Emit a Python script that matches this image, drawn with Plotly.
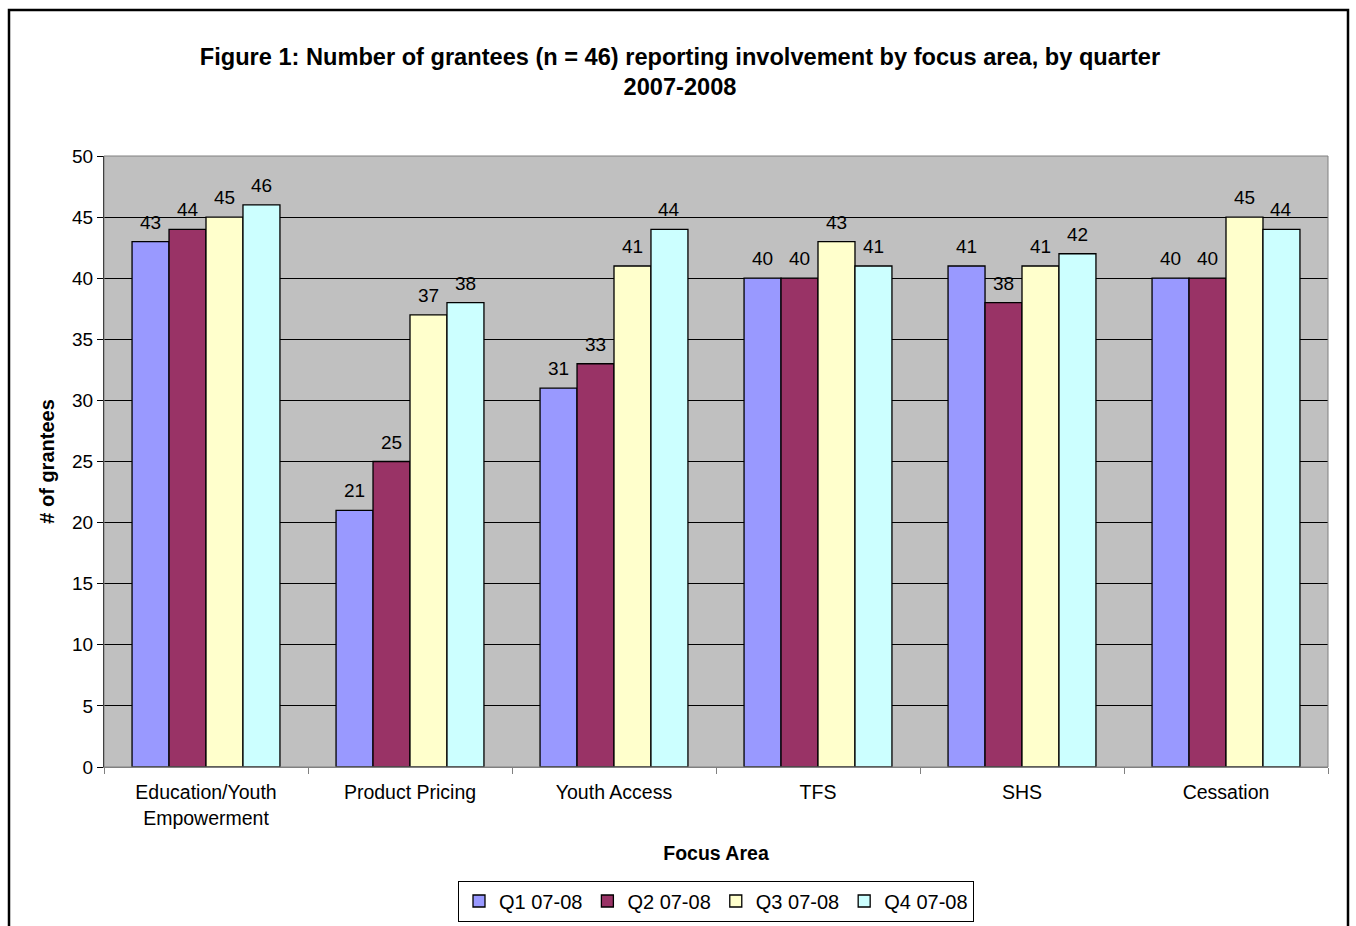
import plotly.graph_objects as go

# Focus areas and quarterly grantee counts
focus_areas = ["Education/Youth<br>Empowerment", "Product Pricing", "Youth Access", "TFS", "SHS", "Cessation"]
quarters = ["Q1 07-08", "Q2 07-08", "Q3 07-08", "Q4 07-08"]
q1_counts = [43, 21, 31, 40, 41, 40]
q2_counts = [44, 25, 33, 40, 38, 40]
q3_counts = [45, 37, 41, 43, 41, 45]
q4_counts = [46, 38, 44, 41, 42, 44]
series = [q1_counts, q2_counts, q3_counts, q4_counts]
colors = ["#9999FF", "#993366", "#FFFFCC", "#CCFFFF"]

FONT = "Liberation Sans, Arial, sans-serif"
BARGAP = 0.275

fig = go.Figure()
for name, vals, col in zip(quarters, series, colors):
    fig.add_trace(go.Bar(
        x=focus_areas, y=vals, name=name,
        marker=dict(color=col, line=dict(color="black", width=1.3)),
        cliponaxis=False,
    ))

# value labels above each bar, placed at the centre of its group slot
n_series = len(series)
slot = (1 - BARGAP) / n_series
labels = []
for j, vals in enumerate(series):
    for i, v in enumerate(vals):
        labels.append(dict(
            x=i + (j - (n_series - 1) / 2) * slot, y=v, xref="x", yref="y",
            text=str(v), showarrow=False, yanchor="bottom", yshift=7,
            font=dict(family=FONT, size=19, color="black"),
        ))

W, H = 1356, 926
ml, mr, mt, mb = 104, 28, 156, 159
pw, ph = W - ml - mr, H - mt - mb

def px_x(x):
    return (x - ml) / pw

def px_y(y):
    return (H - mb - y) / ph

fig.update_layout(
    width=W, height=H,
    margin=dict(l=ml, r=mr, t=mt, b=mb, autoexpand=False),
    paper_bgcolor="white", plot_bgcolor="#C0C0C0",
    barmode="group", bargap=BARGAP, bargroupgap=0,
    font=dict(family=FONT, size=19, color="black"),
    title=dict(
        text="<b>Figure 1: Number of grantees (n = 46) reporting involvement by focus area, by quarter<br>2007-2008</b>",
        font=dict(family=FONT, size=23.6, color="black"),
        x=680 / W, xref="container", xanchor="center",
        y=1 - 64.5 / H, yanchor="middle",
    ),
    xaxis=dict(
        automargin=False,
        showgrid=False, ticks="outside", tickson="boundaries", ticklen=6,
        tickcolor="#808080", showline=True, linecolor="#808080", linewidth=1,
        tickfont=dict(family=FONT, size=19.5), ticklabelstandoff=8,
        title=dict(text="<b>Focus Area</b>", font=dict(family=FONT, size=19.5), standoff=18),
    ),
    yaxis=dict(
        automargin=False,
        range=[0, 50], dtick=5, showgrid=True, gridcolor="black", gridwidth=1,
        ticks="outside", ticklen=6, tickcolor="black",
        showline=True, linecolor="black", linewidth=1, zeroline=False,
        tickfont=dict(family=FONT, size=19),
        title=dict(text="<b># of grantees</b>", font=dict(family=FONT, size=20), standoff=12),
    ),
    legend=dict(
        orientation="h", x=0.5, xanchor="center", y=px_y(901), yanchor="middle",
        bordercolor="black", borderwidth=1, bgcolor="white",
        font=dict(family=FONT, size=20), traceorder="normal",
        itemwidth=30,
    ),
    annotations=labels,
    shapes=[
        # plot-area border
        dict(type="rect", xref="paper", yref="paper", x0=0, x1=1, y0=0, y1=1,
             line=dict(color="#808080", width=1), layer="above"),
        # outer chart frame
        dict(type="rect", xref="paper", yref="paper",
             x0=px_x(9), x1=px_x(1348), y0=px_y(935), y1=px_y(10),
             line=dict(color="black", width=2.5), layer="above"),
    ],
)

fig.write_html("out.html")
